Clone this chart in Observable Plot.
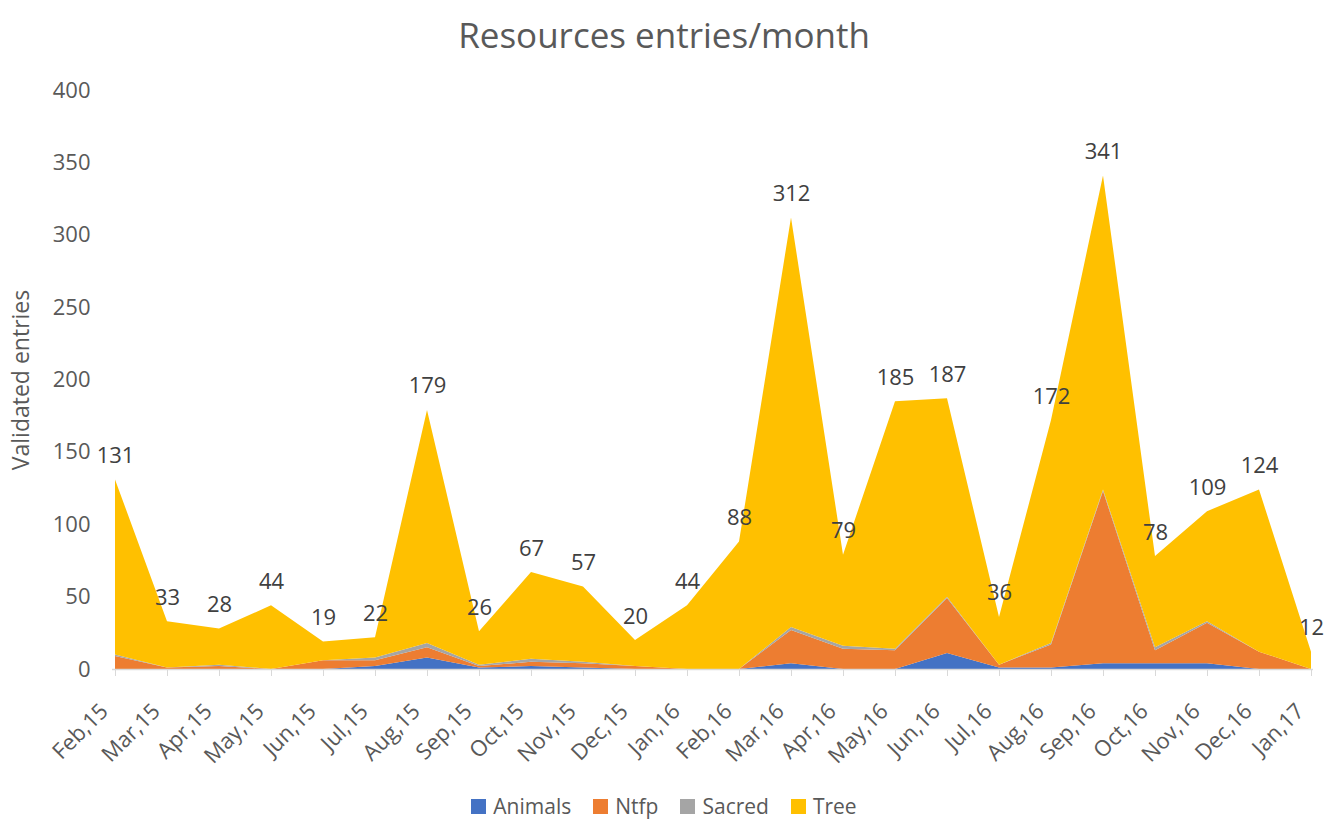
<!DOCTYPE html>
<html>
<head>
<meta charset="utf-8">
<script src="https://cdn.jsdelivr.net/npm/d3@7"></script>
<script src="https://cdn.jsdelivr.net/npm/@observablehq/plot@0.6"></script>
<style>
  html, body { margin: 0; padding: 0; background: #fff; }
  body { width: 1328px; height: 819px; overflow: hidden; font-family: "Open Sans", sans-serif; }
  #title { height: 60px; line-height: 70px; text-align: center; font-size: 35px; color: #595959; }
  #legend { display: flex; justify-content: center; align-items: center; gap: 22px; height: 30px; padding-top: 16px; font-size: 21px; color: #595959; }
  #legend .item { display: flex; align-items: center; gap: 7px; }
  #legend .sw { width: 15px; height: 15px; display: inline-block; }
</style>
</head>
<body>
<div id="title">Resources entries/month</div>
<div id="chart" style="height:715px"></div>
<div id="legend"></div>
<script>
const months = ["Feb,15","Mar,15","Apr,15","May,15","Jun,15","Jul,15","Aug,15","Sep,15","Oct,15","Nov,15","Dec,15","Jan,16",
                "Feb,16","Mar,16","Apr,16","May,16","Jun,16","Jul,16","Aug,16","Sep,16","Oct,16","Nov,16","Dec,16","Jan,17"];
const seriesNames = ["Animals", "Ntfp", "Sacred", "Tree"];
const seriesColors = ["#4472C4", "#ED7D31", "#A5A5A5", "#FFC000"];
const animals = [0, 0, 0, 0, 0, 2, 8, 1, 2, 1, 0, 0, 0, 4, 0, 0, 11, 1, 1, 4, 4, 4, 0, 0];
const ntfp    = [9, 1, 2, 0, 6, 4, 7, 1, 3, 3, 2, 0, 0, 23, 14, 13, 38, 2, 16, 119, 9, 28, 12, 0];
const sacred  = [1, 0, 1, 0, 0, 2, 3, 1, 2, 1, 0, 0, 0, 2, 2, 1, 1, 0, 1, 1, 2, 1, 0, 0];
const tree    = [121, 32, 25, 44, 13, 14, 161, 23, 60, 52, 18, 44, 88, 283, 63, 171, 137, 33, 154, 217, 63, 76, 112, 12];
const yTicks = [0, 50, 100, 150, 200, 250, 300, 350, 400];

const seriesValues = [animals, ntfp, sacred, tree];
const data = months.flatMap((m, i) => seriesNames.map((s, j) => ({month: m, series: s, value: seriesValues[j][i]})));
const totals = months.map((m, i) => ({month: m, total: seriesValues.reduce((a, arr) => a + arr[i], 0)}));

const chart = Plot.plot({
  width: 1328,
  height: 715,
  marginLeft: 112,
  marginRight: 15,
  marginTop: 30,
  marginBottom: 106,
  style: {fontFamily: "Open Sans, sans-serif", fontSize: "21px", color: "#595959", background: "#fff"},
  x: {type: "point", domain: months, padding: 0, label: null},
  y: {domain: [0, 400], label: null},
  color: {domain: seriesNames, range: seriesColors},
  marks: [
    Plot.areaY(data, {x: "month", y: "value", fill: "series", order: seriesNames, curve: "linear"}),
    Plot.ruleY([0], {stroke: "#d9d9d9", strokeWidth: 1.5}),
    Plot.axisX({tickSize: 7, stroke: "#d9d9d9", tickFormat: () => "", label: null}),
    Plot.axisX({tickSize: 0, tickRotate: -45, tickPadding: 24, dx: -11, dy: 14, fill: "#595959", label: null, fontSize: 22}),
    Plot.axisY({ticks: yTicks, tickSize: 0, tickPadding: 22, fill: "#595959", fontSize: 22,
                label: "Validated entries", labelAnchor: "center", labelOffset: 100, labelArrow: false}),
    Plot.text(totals, {x: "month", y: "total", text: "total", dy: -24, fill: "#404040", fontSize: 22})
  ]
});
document.getElementById("chart").appendChild(chart);
chart.querySelectorAll("g[aria-label='y-axis label'] text, g[aria-label='y-axis label']").forEach(n => n.setAttribute("font-size", 23));

const legend = document.getElementById("legend");
seriesNames.forEach((s, j) => {
  const it = document.createElement("div");
  it.className = "item";
  const sw = document.createElement("span");
  sw.className = "sw";
  sw.style.background = seriesColors[j];
  const tx = document.createElement("span");
  tx.textContent = s;
  it.appendChild(sw); it.appendChild(tx);
  legend.appendChild(it);
});
</script>
</body>
</html>
